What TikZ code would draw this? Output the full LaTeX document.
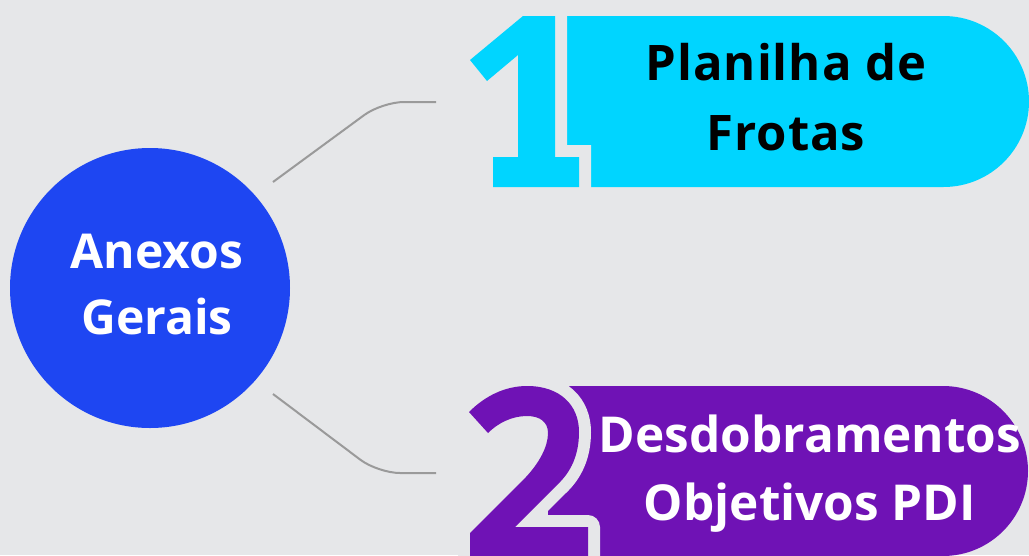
\documentclass[tikz,border=0pt]{standalone}
\usepackage{fontspec}
\setmainfont{Open Sans}
\newfontfamily\spacedfont{Open Sans}[LetterSpace=2]
\definecolor{bgc}{HTML}{E6E7E9}
\definecolor{hubblue}{HTML}{1E46F2}
\definecolor{cyanbox}{HTML}{00D5FF}
\definecolor{purplebox}{HTML}{6F12B5}
\definecolor{linkgray}{HTML}{9A9A9A}
\tikzset{
  link/.style={draw=linkgray, line width=2pt, rounded corners=22pt},
  digitcut/.style={preaction={draw=bgc, line width=24pt, line join=#1}},
  boxtext/.style={align=center, inner sep=0pt, font=\bfseries\fontsize{49}{70}\selectfont},
}
\begin{document}
\begin{tikzpicture}[x=1pt,y=-1pt]
\useasboundingbox (0,0) rectangle (1029,555);
\fill[bgc] (0,0) rectangle (1029,555);
\clip (0,0) rectangle (1029,555);

% hub circle
\node[circle, fill=hubblue, minimum size=280pt, inner sep=0pt] (hub) at (150,288) {};
\node[boxtext, text=white, font=\bfseries\fontsize{48}{66}\selectfont] (hubtext) at (157,285) {Anexos\\Gerais};

% connectors
\coordinate (l1a) at (273,182);
\coordinate (l1b) at (382,102);
\coordinate (l1c) at (436,102);
\coordinate (l2a) at (273,394);
\coordinate (l2b) at (378,473);
\coordinate (l2c) at (436,473);
\draw[link] (l1a) -- (l1b) -- (l1c);
\draw[link] (l2a) -- (l2b) -- (l2c);

% box 1
\fill[cyanbox] (556,16) -- (943.5,16) .. controls (990.7,16) and (1029,54.3) .. (1029,101.5)
  .. controls (1029,148.7) and (990.7,187) .. (943.5,187) -- (556,187) -- cycle;
\fill[cyanbox, digitcut=miter] (523,16) -- (555,16) -- (555,157) -- (579,157) -- (579,187)
  -- (493,187) -- (493,157) -- (518,157) -- (518,55) -- (487,81) -- (470,60) -- cycle;
\node[boxtext, text=black, font=\spacedfont\bfseries\fontsize{49}{70}\selectfont] (t1) at (786,97) {Planilha de\\Frotas};

% box 2
\fill[purplebox] (548,386) -- (943,386) .. controls (989.9,386) and (1028,424.1) .. (1028,471)
  .. controls (1028,517.9) and (989.9,556) .. (943,556) -- (943,570) -- (548,570) -- cycle;
\fill[purplebox, digitcut=round] (469,412) .. controls (485,396) and (505,386) .. (527,386)
  .. controls (560,386) and (579,405) .. (579,432) .. controls (579,455) and (571,472) .. (557,485)
  -- (515,527) -- (588,527) -- (588,570) -- (470,570) -- (470,533) -- (526,477)
  .. controls (539,463) and (548,447) .. (548,433) .. controls (548,422) and (540,416) .. (527,416)
  .. controls (512,416) and (498,423) .. (488,433) -- cycle;
\node[boxtext, text=white, font=\bfseries\fontsize{49.5}{68}\selectfont] (t2) at (810,474) {Desdobramentos\\Objetivos PDI};
\end{tikzpicture}
\end{document}
